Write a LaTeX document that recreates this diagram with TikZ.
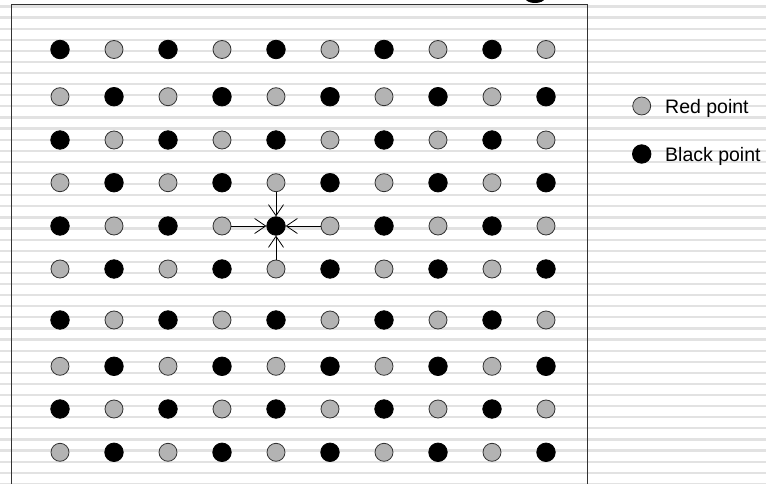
\documentclass[tikz,border=0pt]{standalone}
\usepackage{fontspec}
\setmainfont{Liberation Sans}
\usetikzlibrary{arrows.meta}
\definecolor{redptc}{HTML}{B3B3B3}
\definecolor{stripec}{HTML}{E2E2E2}
\begin{document}
\begin{tikzpicture}[x=1pt,y=-1pt,
  stripeline/.style={draw=stripec, line width=2.2pt},
  redpt/.style={circle, draw=black!80, fill=redptc, line width=0.8pt, minimum size=18pt, inner sep=0pt},
  blackpt/.style={circle, draw=black, fill=black, line width=0.8pt, minimum size=18.5pt, inner sep=0pt},
  frameline/.style={draw=black!80, line width=1pt},
  conn/.style={line width=0.8pt, -{Straight Barb[length=11pt,width=15pt,line width=0.8pt]}},
  legendtext/.style={anchor=base west, font=\fontsize{19.5}{22}\selectfont, inner sep=0pt}]
\useasboundingbox (0,0) rectangle (766,484);
\clip (0,0) rectangle (766,484);
\fill[white] (0,0) rectangle (766,484);
% stripes
\foreach \k in {0,...,43}{
  \pgfmathsetmacro\sy{6.5+11.1*\k}
  \draw[stripeline] (0,\sy) -- (766,\sy);
}
% frame (bottom edge lies below the picture)
\draw[frameline] (11.7,490) -- (11.7,4.3) -- (587.3,4.3) -- (587.3,490);
% fragment of cut-off title
\fill[black] (535,-1.5) ellipse [x radius=9.5, y radius=4.5];
% grid of points
\foreach \r/\yy in {0/49.5,1/96.7,2/140,3/182.7,4/226,5/269,6/320,7/366.3,8/409,9/452.3}{
  \foreach \c in {0,...,9}{
    \pgfmathsetmacro\xx{60+54*\c}
    \pgfmathtruncatemacro\pp{mod(\r+\c,2)}
    \ifnum\pp=0
      \node[blackpt] (n\r-\c) at (\xx,\yy) {};
    \else
      \node[redpt] (n\r-\c) at (\xx,\yy) {};
    \fi
  }
}
% arrows to the centre point
\draw[conn] (n3-4) -- (n4-4);
\draw[conn] (n5-4) -- (n4-4);
\draw[conn] (n4-3) -- (n4-4);
\draw[conn] (n4-5) -- (n4-4);
% legend
\node[redpt] (lr) at (641.7,106) {};
\node[legendtext] (lrt) at (665,113.3) {Red point};
\node[blackpt] (lb) at (641.7,154) {};
\node[legendtext] (lbt) at (665,161) {Black point};
\end{tikzpicture}
\end{document}
